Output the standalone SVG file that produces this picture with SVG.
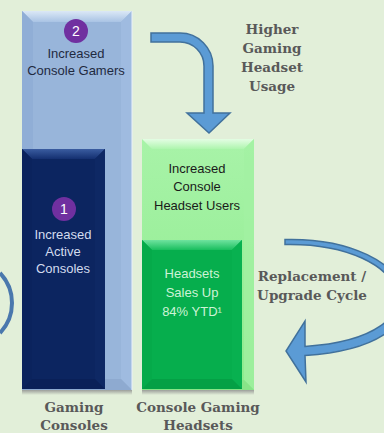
<svg xmlns="http://www.w3.org/2000/svg" width="384" height="433" viewBox="0 0 384 433">
<defs>
<linearGradient id="shadow" x1="0" y1="0" x2="0" y2="1">
<stop offset="0" stop-color="#8a8a8a" stop-opacity="0.8"/>
<stop offset="1" stop-color="#8a8a8a" stop-opacity="0"/>
</linearGradient>
<linearGradient id="lbTop" x1="0" y1="0" x2="0" y2="1">
<stop offset="0" stop-color="#dbe8f6"/>
<stop offset="1" stop-color="#a9c3e4"/>
</linearGradient>
<linearGradient id="dbTop" x1="0" y1="0" x2="0" y2="1">
<stop offset="0" stop-color="#3a5ca0"/>
<stop offset="1" stop-color="#142f70"/>
</linearGradient>
<linearGradient id="lgMain" x1="0" y1="0" x2="0" y2="1">
<stop offset="0" stop-color="#a8f3a8"/>
<stop offset="1" stop-color="#8deb8d"/>
</linearGradient>
<linearGradient id="lgTop" x1="0" y1="0" x2="0" y2="1">
<stop offset="0" stop-color="#e4fde4"/>
<stop offset="1" stop-color="#aef5ae"/>
</linearGradient>
<linearGradient id="dgTop" x1="0" y1="0" x2="0" y2="1">
<stop offset="0" stop-color="#6fe39f"/>
<stop offset="1" stop-color="#19be5e"/>
</linearGradient>
</defs>
<style>
.sans{font-family:"Liberation Sans",Arial,sans-serif;font-size:13px;text-anchor:middle}
.serif{font-family:"DejaVu Serif","Liberation Serif",serif;font-size:13.5px;font-weight:bold;fill:#595959;text-anchor:middle}
.arrow{fill:#5b9bd5;stroke:#41719c;stroke-width:1.5;stroke-linejoin:miter}
.badge{fill:#7030a0}
.badgeText{font-family:"Liberation Sans",Arial,sans-serif;font-size:14px;fill:#ffffff;text-anchor:middle}
</style>
<rect x="0" y="0" width="384" height="433" fill="#e2efd9"/>

<g id="gaming-consoles-bar">
<rect x="22" y="390" width="110" height="5" fill="url(#shadow)"/>
<rect x="22" y="11" width="110" height="379" fill="#98b5da"/>
<polygon points="22,11 132,11 121,22 33,22" fill="url(#lbTop)"/>
<polygon points="22,11 33,22 33,379 22,390" fill="#90aed6"/>
<polygon points="132,11 121,22 121,379 132,390" fill="#9fbbe0"/>
<polygon points="22,390 132,390 121,379 33,379" fill="#8eaad0"/>
<line x1="132" y1="11" x2="132" y2="390" stroke="#e8f0fa" stroke-width="1"/>
<circle class="badge" cx="76" cy="31" r="12"/>
<text class="badgeText" x="76" y="36">2</text>
<text class="sans" fill="#1f2a3f"><tspan x="76" y="58">Increased</tspan><tspan x="76" y="75">Console Gamers</tspan></text>
</g>

<g id="active-consoles-bar">
<rect x="22" y="149" width="83" height="240" fill="#0c2560"/>
<polygon points="22,149 105,149 95,159 32,159" fill="url(#dbTop)"/>
<polygon points="22,149 32,159 32,379 22,389" fill="#0b235d"/>
<polygon points="105,149 95,159 95,379 105,389" fill="#0e2864"/>
<polygon points="22,389 105,389 95,379 32,379" fill="#0a2058"/>
<circle class="badge" cx="64" cy="209" r="12"/>
<text class="badgeText" x="64" y="214">1</text>
<text class="sans" fill="#d3dcee"><tspan x="63" y="239">Increased</tspan><tspan x="63" y="256">Active</tspan><tspan x="63" y="273">Consoles</tspan></text>
</g>

<g id="headset-users-bar">
<rect x="142" y="390" width="112" height="5" fill="url(#shadow)"/>
<rect x="142" y="139" width="112" height="251" fill="url(#lgMain)"/>
<polygon points="142,139 254,139 244,149 152,149" fill="url(#lgTop)"/>
<polygon points="254,139 244,149 244,380 254,390" fill="#a2f1a2" opacity="0.7"/>
<polygon points="142,390 254,390 244,380 152,380" fill="#88e488"/>
<text class="sans" fill="#1a1a1a"><tspan x="197" y="173">Increased</tspan><tspan x="197" y="191">Console</tspan><tspan x="197" y="210">Headset Users</tspan></text>
</g>

<g id="headset-sales-bar">
<rect x="142" y="240" width="100" height="149" fill="#06ae4d"/>
<polygon points="142,240 242,240 232,250 152,250" fill="url(#dgTop)"/>
<polygon points="142,240 152,250 152,379 142,389" fill="#05aa4a"/>
<polygon points="242,240 232,250 232,379 242,389" fill="#08b150"/>
<polygon points="142,389 242,389 232,379 152,379" fill="#04a045"/>
<text class="sans" fill="#cdf3d6"><tspan x="192" y="278">Headsets</tspan><tspan x="192" y="297">Sales Up</tspan><tspan x="192" y="316">84% YTD¹</tspan></text>
</g>

<g id="labels">
<text class="serif"><tspan x="74" y="412">Gaming</tspan><tspan x="74" y="430">Consoles</tspan></text>
<text class="serif"><tspan x="198" y="412">Console Gaming</tspan><tspan x="198" y="430">Headsets</tspan></text>
<text class="serif"><tspan x="272" y="34">Higher</tspan><tspan x="272" y="53">Gaming</tspan><tspan x="272" y="72">Headset</tspan><tspan x="272" y="91">Usage</tspan></text>
<text class="serif"><tspan x="312" y="281">Replacement /</tspan><tspan x="312" y="300">Upgrade Cycle</tspan></text>
</g>

<g id="connectors">
<path class="arrow" d="M151,33 L180,33 A33,33 0 0 1 213,66 L213,113 L230,113 L209,133 L187,113 L204,113 L204,66 A24,24 0 0 0 180,42 L151,42 Z"/>
<path class="arrow" d="M285,239.5 C420,236 462,345 305,355.5 L306,382 L286,351 L305,321 L305,346.5 C448,337 412,242 285,244.5 Z"/>
<path d="M0,273 A43.5,43.5 0 0 1 0,333" fill="none" stroke="#4a78ad" stroke-width="4"/>
</g>
</svg>
